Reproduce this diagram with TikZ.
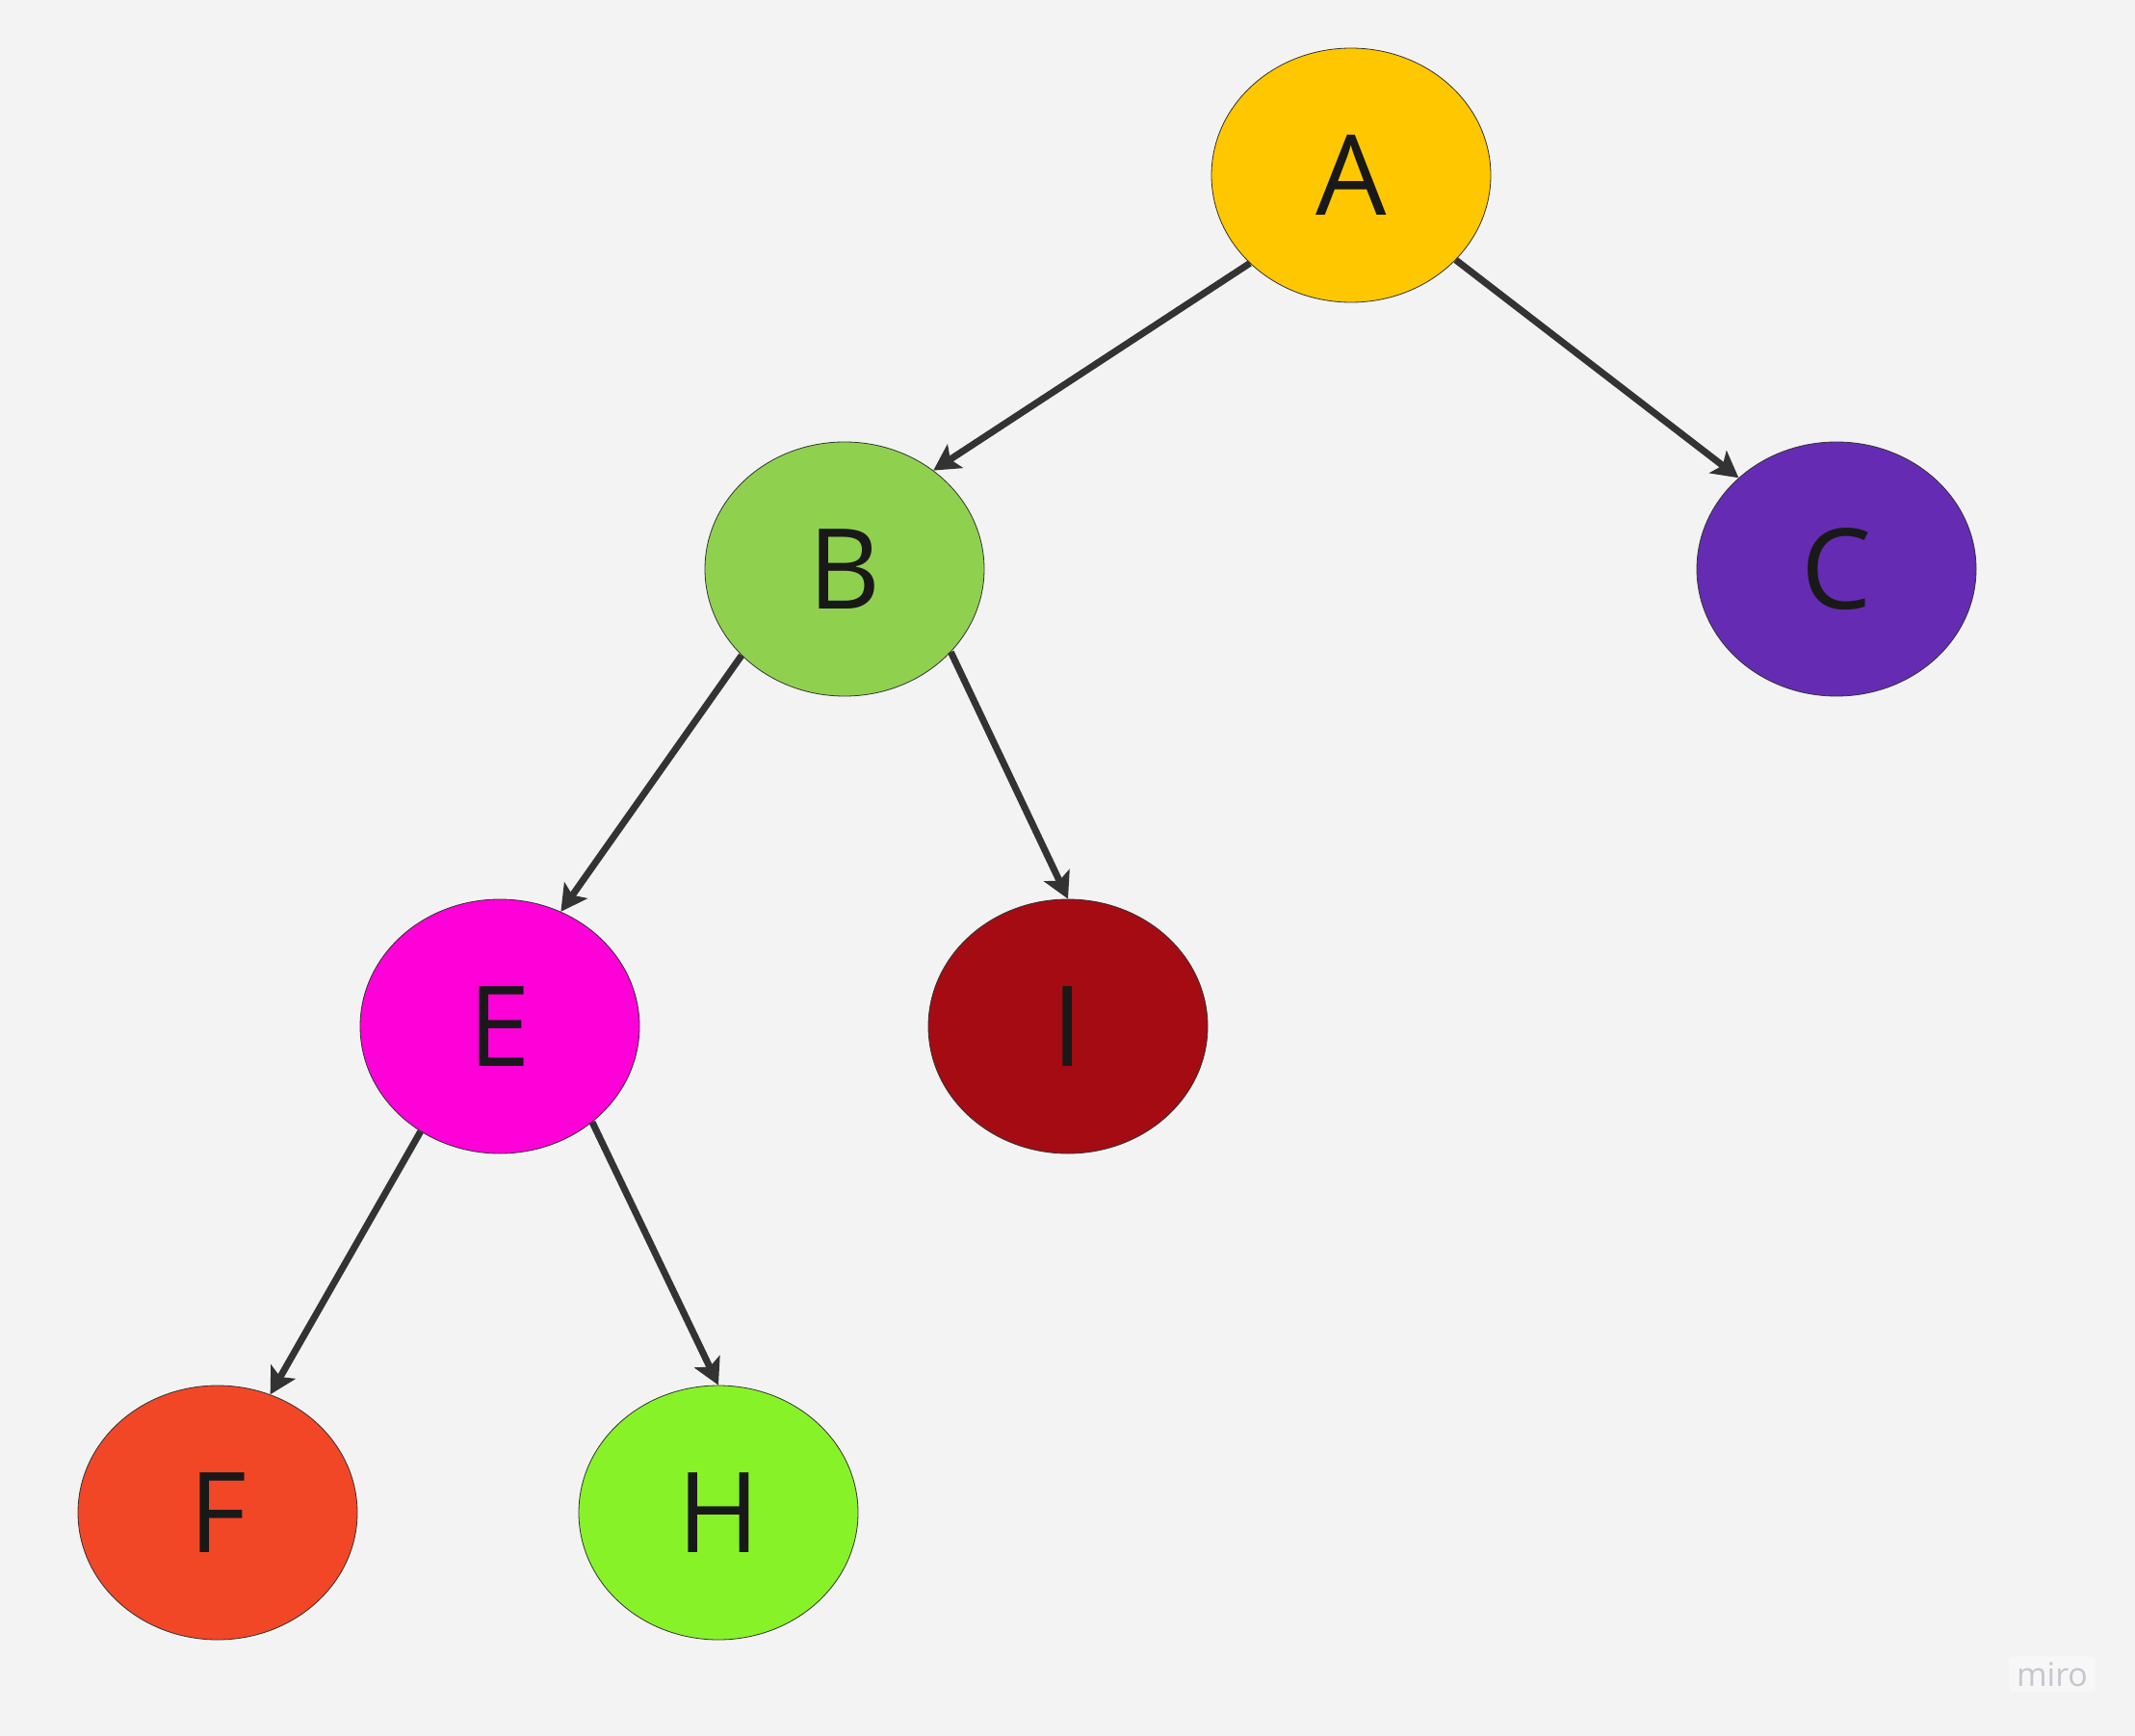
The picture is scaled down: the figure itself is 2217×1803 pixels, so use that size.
\documentclass[tikz,border=0pt]{standalone}
\usepackage{fontspec}
\setmainfont{Open Sans}
\usetikzlibrary{arrows.meta,shapes.geometric}
\definecolor{bg}{HTML}{F3F3F3}
\definecolor{edge}{HTML}{333333}
\definecolor{cA}{HTML}{FFC700}
\definecolor{cB}{HTML}{8FD14F}
\definecolor{cC}{HTML}{652CB3}
\definecolor{cE}{HTML}{FF00D9}
\definecolor{cI}{HTML}{A50B13}
\definecolor{cF}{HTML}{F24726}
\definecolor{cH}{HTML}{88F229}
\definecolor{logo}{HTML}{C6C6D0}
\definecolor{logobg}{HTML}{F7F7F7}
\tikzset{
  tnode/.style={ellipse, draw=black!80, line width=0.8pt, minimum width=290pt, minimum height=264pt, inner sep=0pt, text=black!90, font=\fontsize{116}{116}\selectfont},
  link/.style={draw=edge, line width=7pt, -{Stealth[length=27pt,width=29pt,inset=6pt]}}
}
\begin{document}
\begin{tikzpicture}[x=1pt,y=-1pt]
\fill[bg] (0,0) rectangle (2217,1803);
\useasboundingbox (0,0) rectangle (2217,1803);
\node[tnode, fill=cA] (A) at (1403,182) {A};
\node[tnode, fill=cB] (B) at (877,591) {B};
\node[tnode, fill=cC] (C) at (1907,591) {C};
\node[tnode, fill=cE] (E) at (519,1066) {E};
\node[tnode, fill=cI] (I) at (1109,1066) {I};
\node[tnode, fill=cF] (F) at (226,1571) {F};
\node[tnode, fill=cH] (H) at (746,1571) {H};
\draw[link] (A.221) -- (B.48);
\draw[link] (A.-39.5) -- (C.137);
\draw[link] (B.220.6) -- (E.62);
\draw[link] (B.-38) -- (I.90);
\draw[link] (E.233.4) -- (F.66.7);
\draw[link] (E.-46) -- (H.90);
\node[fill=logobg, rounded corners=4pt, inner xsep=8pt, inner ysep=6pt, text=logo, font=\fontsize{34}{34}\selectfont] (logo) at (2131,1739) {miro};
\end{tikzpicture}
\end{document}
